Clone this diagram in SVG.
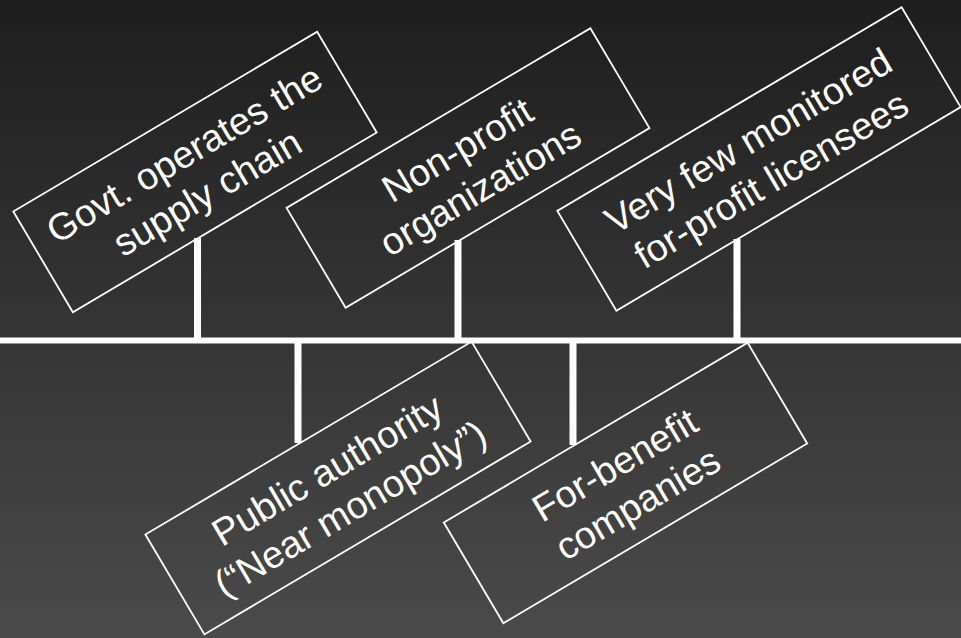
<svg xmlns="http://www.w3.org/2000/svg" width="961" height="638" viewBox="0 0 961 638">
<defs>
<linearGradient id="bg" x1="0" y1="0" x2="0" y2="1">
<stop offset="0" stop-color="#1e1e1e"/>
<stop offset="1" stop-color="#4a4a4a"/>
</linearGradient>
</defs>
<style>
.box{fill:none;stroke:#fff;stroke-width:1.8}
.lbl{fill:#fff;font-family:"Liberation Sans",Arial,sans-serif;font-size:38px;text-anchor:middle}
.ln{stroke:#fff;stroke-width:7;fill:none}
</style>
<rect width="961" height="638" fill="url(#bg)"/>
<g id="connectors">
<line class="ln" x1="197.5" y1="238" x2="197.5" y2="340"/>
<line class="ln" x1="458" y1="240" x2="458" y2="340"/>
<line class="ln" x1="737" y1="239" x2="737" y2="340"/>
<line class="ln" x1="298" y1="340" x2="298" y2="443"/>
<line class="ln" x1="573" y1="340" x2="573" y2="445"/>
<line x1="0" y1="340.5" x2="961" y2="340.5" stroke="#fff" stroke-width="6"/>
</g>
<g id="govt" transform="translate(195,172) rotate(-30.6)">
<rect class="box" x="-176.5" y="-58.5" width="353" height="117"/>
<text class="lbl" x="0" y="-8">Govt. operates the</text>
<text class="lbl" x="0" y="37">supply chain</text>
</g>
<g id="nonprofit" transform="translate(468,168) rotate(-30.6)">
<rect class="box" x="-176.5" y="-58" width="353" height="116"/>
<text class="lbl" x="0" y="-8">Non-profit</text>
<text class="lbl" x="0" y="37">organizations</text>
</g>
<g id="veryfew" transform="translate(759,159) rotate(-30.6)">
<rect class="box" x="-200" y="-58" width="400" height="116"/>
<text class="lbl" x="0" y="-8">Very few monitored</text>
<text class="lbl" x="0" y="37">for-profit licensees</text>
</g>
<g id="public" transform="translate(338,488) rotate(-30.6)">
<rect class="box" x="-189.5" y="-58" width="379" height="116"/>
<text class="lbl" x="0" y="-8">Public authority</text>
<text class="lbl" x="0" y="37">(“Near monopoly”)</text>
</g>
<g id="forbenefit" transform="translate(625.5,483) rotate(-30.6)">
<rect class="box" x="-176.5" y="-58.5" width="353" height="117"/>
<text class="lbl" x="0" y="-8">For-benefit</text>
<text class="lbl" x="0" y="37">companies</text>
</g>
</svg>
